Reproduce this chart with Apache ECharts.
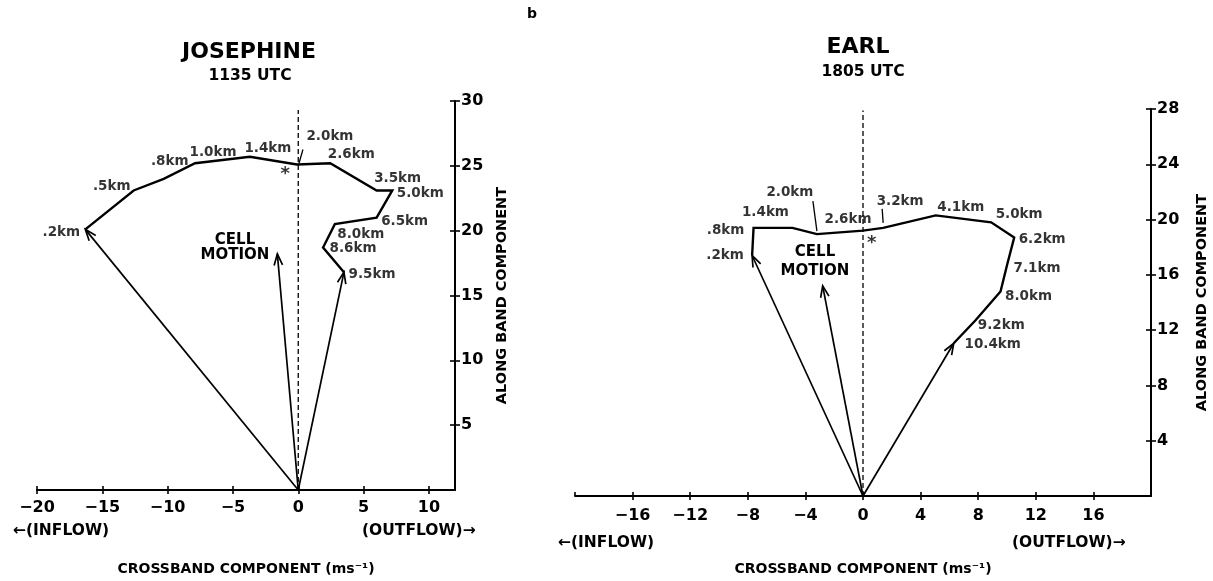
<!DOCTYPE html>
<html>
<head>
<meta charset="utf-8">
<script src="https://cdn.jsdelivr.net/npm/echarts@6/dist/echarts.min.js"></script>
<style>
  html, body { margin: 0; padding: 0; background: #fff; }
  #chart { width: 1213px; height: 581px; }
</style>
</head>
<body>
<div id="chart"></div>
<script>
// panel a: Josephine 1135 UTC
var josLevels = ['.2km', '.5km', '.8km', '1.0km', '1.4km', '2.0km', '2.6km', '3.5km', '5.0km', '6.5km', '8.0km', '8.6km', '9.5km'];
var josCross = [-16.3, -12.6, -10.3, -7.9, -3.7, -0.1, 2.45, 6.0, 7.2, 6.0, 2.8, 1.9, 3.5];
var josAlong = [20.1, 23.1, 24.0, 25.2, 25.7, 25.1, 25.2, 23.1, 23.1, 21.0, 20.5, 18.7, 16.8];
var josCell = [-1.6, 18.2];
var josStar = [-1.0, 24.6];
var josXTicks = [-20, -15, -10, -5, 0, 5, 10];
var josYTicks = [5, 10, 15, 20, 25, 30];

// panel b: Earl 1805 UTC
var earlLevels = ['.2km', '.8km', '1.4km', '2.0km', '2.6km', '3.2km', '4.1km', '5.0km', '6.2km', '7.1km', '8.0km', '9.2km', '10.4km'];
var earlCross = [-7.7, -7.6, -4.9, -3.2, 0.0, 1.4, 5.05, 8.9, 10.5, 10.0, 9.55, 7.8, 6.3];
var earlAlong = [17.4, 19.4, 19.4, 18.95, 19.2, 19.4, 20.3, 19.8, 18.7, 16.7, 14.8, 12.7, 11.05];
var earlCell = [-2.8, 15.2];
var earlStar = [0.6, 18.5];
var earlXTicks = [-16, -12, -8, -4, 0, 4, 8, 12, 16];
var earlYTicks = [4, 8, 12, 16, 20, 24, 28];

// label offsets (px, label centre relative to the point)
var josLabelOff = [[-24, 3], [-22, -4], [6, -17], [18, -11], [18, -8], [33, -28], [21, -9], [21, -12], [28, 3], [28, 4], [26, 10], [30, 1], [28, 2]];
var earlLabelOff = [[-27, 0], [-28, 3], [-27, -15], [-27, -42], [-15, -11], [17, -26], [25, -8], [28, -8], [28, 2], [30, 3], [28, 5], [26, 5], [39, 1]];
// leader ticks: [point index, dx1, dy1, dx2, dy2]
var josLeaders = [[5, 6, -15, 2, -1]];
var earlLeaders = [[3, -4, -33, 0, -3], [5, -1, -19, 0, -5]];

var FONT = 'DejaVu Sans';

function minus(v) { return String(v).replace('-', '\u2212'); }

function zip(a, b) { return a.map(function (v, i) { return [v, b[i]]; }); }

function arrowItem(params, api) {
  var p0 = api.coord([api.value(0), api.value(1)]);
  var p1 = api.coord([api.value(2), api.value(3)]);
  var ang = Math.atan2(p1[1] - p0[1], p1[0] - p0[0]);
  var L = 12, a = 0.36;
  var h1 = [p1[0] - L * Math.cos(ang - a), p1[1] - L * Math.sin(ang - a)];
  var h2 = [p1[0] - L * Math.cos(ang + a), p1[1] - L * Math.sin(ang + a)];
  return {
    type: 'group',
    children: [
      { type: 'line', shape: { x1: p0[0], y1: p0[1], x2: p1[0], y2: p1[1] }, style: { stroke: '#000', lineWidth: 1.7 } },
      { type: 'polyline', shape: { points: [h1, p1, h2] }, style: { stroke: '#000', lineWidth: 1.7, fill: null } }
    ]
  };
}

function leaderItem(pts) {
  return function (params, api) {
    var p = api.coord([api.value(0), api.value(1)]);
    var d = pts[params.dataIndex];
    return {
      type: 'line',
      shape: { x1: p[0] + d[1], y1: p[1] + d[2], x2: p[0] + d[3], y2: p[1] + d[4] },
      style: { stroke: '#000', lineWidth: 1.3 }
    };
  };
}

function panelAxes(gi, xmin, xmax, xint, ymax, yint, hideXMin, labMargin, nameGapX, nameGapY) {
  var lineStyle = { color: '#000', width: 2 };
  return {
    x: [
      {
        gridIndex: gi, type: 'value', min: xmin, max: xmax, interval: xint, position: 'bottom',
        axisLine: { onZero: false, lineStyle: lineStyle },
        axisTick: { length: 4, lineStyle: { color: '#000', width: 1.6 } },
        axisLabel: {
          color: '#000', fontFamily: FONT, fontWeight: 'bold', fontSize: 16, margin: labMargin,
          showMinLabel: !hideXMin, showMaxLabel: false, formatter: minus
        },
        splitLine: { show: false },
        name: 'CROSSBAND COMPONENT (ms\u207B\u00B9)', nameLocation: 'middle', nameGap: nameGapX,
        nameTextStyle: { color: '#000', fontFamily: FONT, fontWeight: 'bold', fontSize: 14 }
      },
      {
        gridIndex: gi, type: 'value', min: xmin, max: xmax, interval: xint, position: 'bottom',
        axisLine: { show: false, onZero: false },
        axisTick: { inside: true, length: 4, lineStyle: { color: '#000', width: 1.6 } },
        axisLabel: { show: false }, splitLine: { show: false }
      }
    ],
    y: [
      {
        gridIndex: gi, type: 'value', min: 0, max: ymax, interval: yint, position: 'right',
        axisLine: { onZero: false, lineStyle: lineStyle },
        axisTick: { length: 5, lineStyle: { color: '#000', width: 1.6 } },
        axisLabel: {
          color: '#000', fontFamily: FONT, fontWeight: 'bold', fontSize: 16, margin: 6,
          showMinLabel: false
        },
        splitLine: { show: false },
        name: 'ALONG BAND COMPONENT', nameLocation: 'middle', nameRotate: 90, nameGap: nameGapY,
        nameTextStyle: { color: '#000', fontFamily: FONT, fontWeight: 'bold', fontSize: 14.5 }
      },
      {
        gridIndex: gi, type: 'value', min: 0, max: ymax, interval: yint, position: 'right',
        axisLine: { show: false, onZero: false },
        axisTick: { inside: true, length: 5, lineStyle: { color: '#000', width: 1.6 } },
        axisLabel: { show: false }, splitLine: { show: false }
      }
    ]
  };
}

function panelSeries(xi, yi, levels, cross, along, offs, cell, star, leaders, dashTop) {
  var pts = zip(cross, along);
  var last = pts.length - 1;
  return [
    {
      type: 'line', xAxisIndex: xi, yAxisIndex: yi, data: [[0, 0], [0, dashTop]],
      symbol: 'none', silent: true,
      lineStyle: { color: '#000', width: 1.3, type: [5, 3] }
    },
    {
      type: 'line', xAxisIndex: xi, yAxisIndex: yi, data: pts,
      symbol: 'none', silent: true,
      lineStyle: { color: '#000', width: 2.4, join: 'miter' }
    },
    {
      type: 'scatter', xAxisIndex: xi, yAxisIndex: yi, symbolSize: 0.1, silent: true,
      itemStyle: { color: 'rgba(0,0,0,0)' },
      data: pts.map(function (p, i) {
        return {
          value: p, name: levels[i],
          label: {
            show: true, position: 'inside', offset: offs[i], formatter: '{b}',
            color: '#000', fontFamily: FONT, fontWeight: 'bold', fontSize: 13.5
          }
        };
      })
    },
    {
      type: 'custom', xAxisIndex: xi, yAxisIndex: yi, silent: true, clip: false,
      renderItem: arrowItem, encode: { x: [0, 2], y: [1, 3] },
      data: [
        [0, 0, pts[0][0], pts[0][1]],
        [0, 0, cell[0], cell[1]],
        [0, 0, pts[last][0], pts[last][1]]
      ]
    },
    {
      type: 'custom', xAxisIndex: xi, yAxisIndex: yi, silent: true, clip: false,
      renderItem: leaderItem(leaders), encode: { x: 0, y: 1 },
      data: leaders.map(function (l) { return pts[l[0]]; })
    },
    {
      type: 'scatter', xAxisIndex: xi, yAxisIndex: yi, symbolSize: 0.1, silent: true,
      itemStyle: { color: 'rgba(0,0,0,0)' },
      data: [star],
      label: { show: true, position: 'inside', formatter: '*', color: '#000', fontFamily: FONT, fontWeight: 'bold', fontSize: 18, offset: [0, 3] }
    }
  ];
}

var a = panelAxes(0, -20, 12, 5, 30, 5, false, 10, 72, 40);
var b = panelAxes(1, -20, 20, 4, 28, 4, true, 12, 66, 44);

function txt(x, y, s, size, align) {
  return {
    type: 'text', x: x, y: y,
    style: {
      text: s, fill: '#000', font: 'bold ' + size + 'px "' + FONT + '"',
      textAlign: align || 'center', textVerticalAlign: 'middle'
    }
  };
}

var chart = echarts.init(document.getElementById('chart'));
chart.setOption({
  backgroundColor: '#fff',
  animation: false,
  grid: [
    { left: 37, width: 418, top: 101, height: 391 },
    { left: 575, width: 576, top: 109, height: 390 }
  ],
  xAxis: [a.x[0], a.x[1], b.x[0], b.x[1]],
  yAxis: [a.y[0], a.y[1], b.y[0], b.y[1]],
  series: [].concat(
    panelSeries(0, 0, josLevels, josCross, josAlong, josLabelOff, josCell, josStar, josLeaders, 29.3),
    panelSeries(2, 2, earlLevels, earlCross, earlAlong, earlLabelOff, earlCell, earlStar, earlLeaders, 27.9)
  ),
  graphic: [
    txt(249, 52, 'JOSEPHINE', 22),
    txt(250, 76, '1135 UTC', 15.5),
    txt(858, 47, 'EARL', 22),
    txt(863, 72, '1805 UTC', 15.5),
    txt(532, 14, 'b', 14),
    txt(235, 240, 'CELL', 15),
    txt(235, 255, 'MOTION', 15),
    txt(815, 252, 'CELL', 15),
    txt(815, 271, 'MOTION', 15),
    txt(13, 531, '\u2190(INFLOW)', 15.5, 'left'),
    txt(362, 531, '(OUTFLOW)\u2192', 15.5, 'left'),
    txt(558, 543, '\u2190(INFLOW)', 15.5, 'left'),
    txt(1012, 543, '(OUTFLOW)\u2192', 15.5, 'left')
  ]
});
</script>
</body>
</html>
